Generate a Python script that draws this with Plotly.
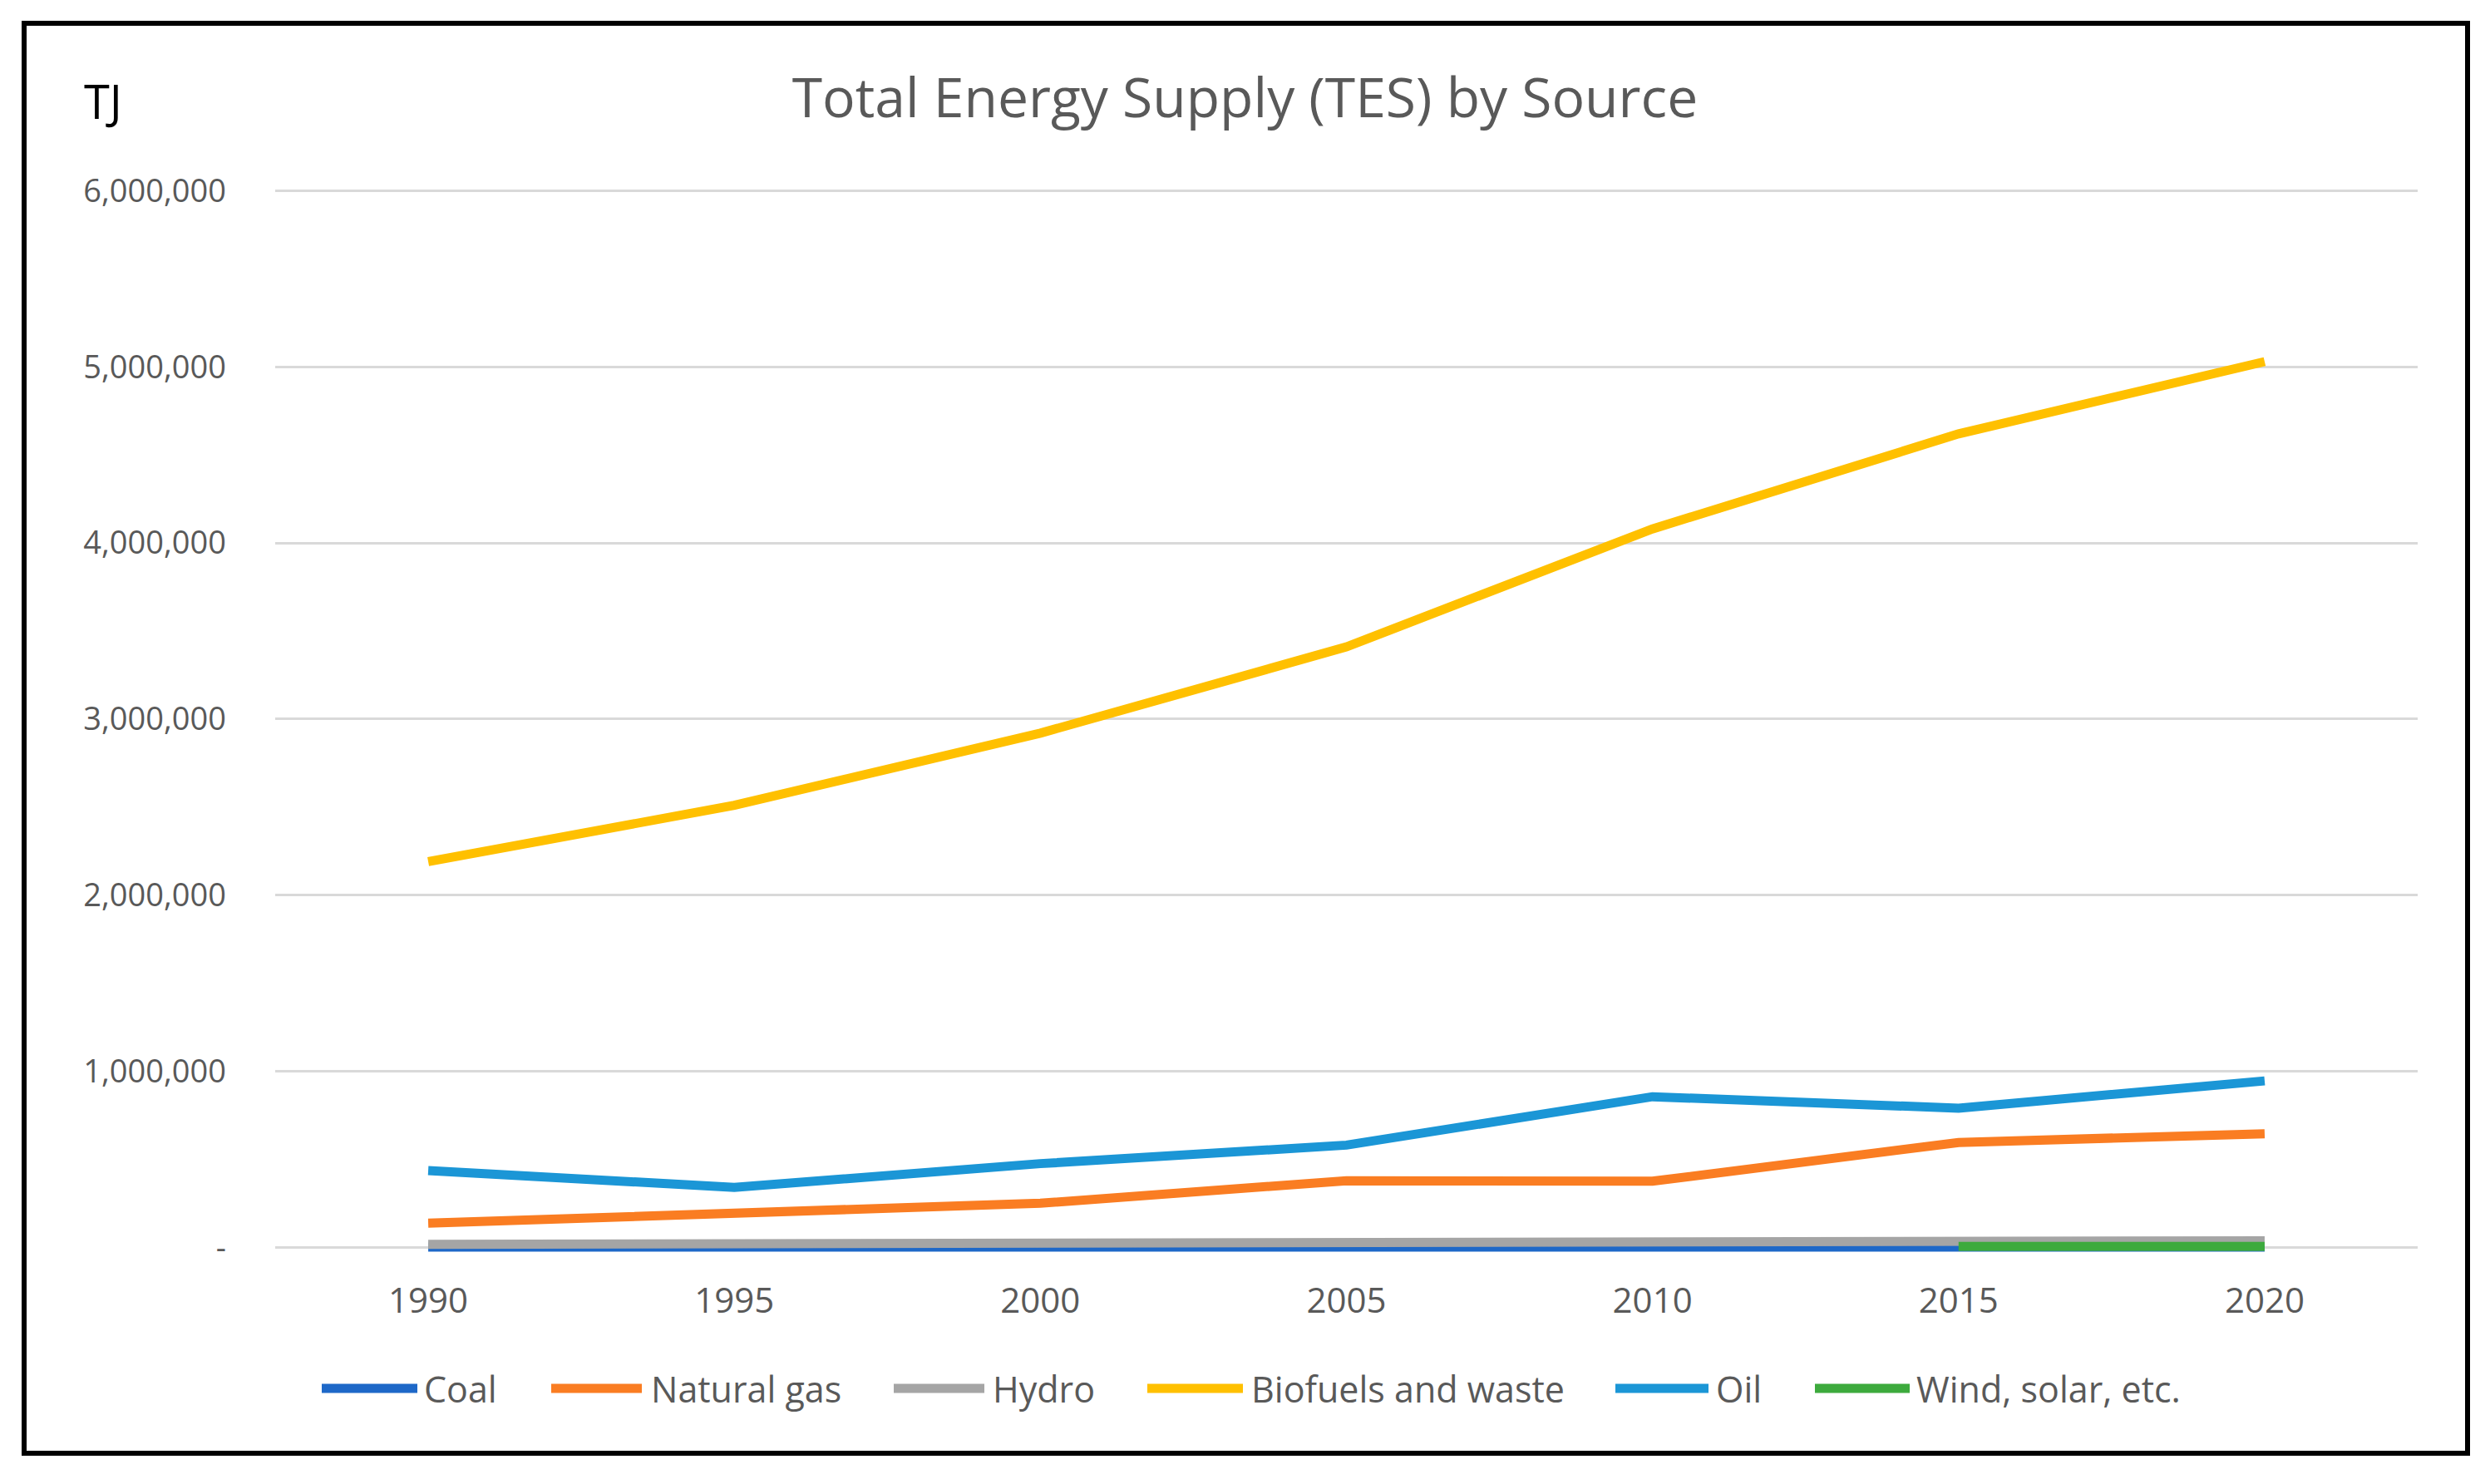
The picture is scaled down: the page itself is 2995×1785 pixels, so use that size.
import plotly.graph_objects as go

# --- datos ---
years = ["1990", "1995", "2000", "2005", "2010", "2015", "2020"]
coal = [1000, 1000, 1000, 1000, 1000, 1000, 1000]
natural_gas = [137000, 190000, 250000, 378000, 375000, 595000, 645000]
hydro = [17000, 20000, 25000, 30000, 28000, 30000, 37000]
biofuels = [2190000, 2510000, 2920000, 3410000, 4080000, 4620000, 5030000]
oil = [435000, 340000, 475000, 580000, 855000, 790000, 945000]
wind_solar = [None, None, None, None, None, 5000, 5000]

series_names = ["Coal", "Natural gas", "Hydro", "Biofuels and waste", "Oil", "Wind, solar, etc."]
series_values = [coal, natural_gas, hydro, biofuels, oil, wind_solar]
series_colors = ["#1E68C8", "#FA7D22", "#A5A5A5", "#FFC000", "#1B96D6", "#3DAA3D"]

y_ticks = [0, 1000000, 2000000, 3000000, 4000000, 5000000, 6000000]
y_ticktext = ["-", "1,000,000", "2,000,000", "3,000,000", "4,000,000", "5,000,000", "6,000,000"]

W, H = 2995, 1785
L, R, T, B = 331, 87, 219, 253
PW, PH = W - L - R, H - T - B
FONT = "Open Sans"


def px(x):
    return (x - L) / PW


def py(y):
    return (H - B - y) / PH


fig = go.Figure()
for name, vals, color in zip(series_names, series_values, series_colors):
    fig.add_trace(go.Scatter(
        x=years, y=vals, name=name, mode="lines",
        line=dict(color=color, width=11),
        showlegend=False,
    ))

# --- leyenda manual (muestras largas como en Excel) ---
legend_items = [(387, 502, 508), (663, 772, 781), (1075, 1184, 1192),
                (1380, 1495, 1503), (1943, 2055, 2062), (2183, 2297, 2303)]
legend_y = 1670
shapes = []
annotations = []
for (x0, x1, xt), name, color in zip(legend_items, series_names, series_colors):
    shapes.append(dict(type="line", xref="paper", yref="paper",
                       x0=px(x0), x1=px(x1), y0=py(legend_y), y1=py(legend_y),
                       line=dict(color=color, width=11)))
    annotations.append(dict(text=name, xref="paper", yref="paper",
                            x=px(xt), y=py(legend_y), xanchor="left", yanchor="middle",
                            showarrow=False, font=dict(family=FONT, size=43, color="#595959")))

# --- marco exterior ---
shapes.append(dict(type="rect", xref="paper", yref="paper",
                   x0=px(29), x1=px(2968), y0=py(1748), y1=py(28),
                   line=dict(color="black", width=6)))

annotations.append(dict(text="TJ", xref="paper", yref="paper",
                        x=px(124), y=py(121), xanchor="center", yanchor="middle",
                        showarrow=False, font=dict(family=FONT, size=56, color="black")))

fig.update_layout(
    width=W, height=H,
    margin=dict(l=L, r=R, t=T, b=B),
    paper_bgcolor="white", plot_bgcolor="white",
    title=dict(text="Total Energy Supply (TES) by Source", x=0.5, xref="container",
               y=1 - 118 / H, yref="container", xanchor="center", yanchor="middle",
               font=dict(family=FONT, size=66, color="#595959")),
    xaxis=dict(type="category", range=[-0.5, 6.5], showgrid=False, zeroline=False,
               showline=False, ticks="", ticklabelstandoff=4,
               tickfont=dict(family=FONT, size=42, color="#595959")),
    yaxis=dict(range=[-150000, 6050000], tickvals=y_ticks, ticktext=y_ticktext,
               showgrid=True, gridcolor="#D9D9D9", gridwidth=3, zeroline=False,
               showline=False, ticks="", ticklabelstandoff=58,
               tickfont=dict(family=FONT, size=38, color="#595959")),
    shapes=shapes,
    annotations=annotations,
)

fig.write_html("out.html", config={"displayModeBar": False},
               post_script="document.body.style.margin='0';")
